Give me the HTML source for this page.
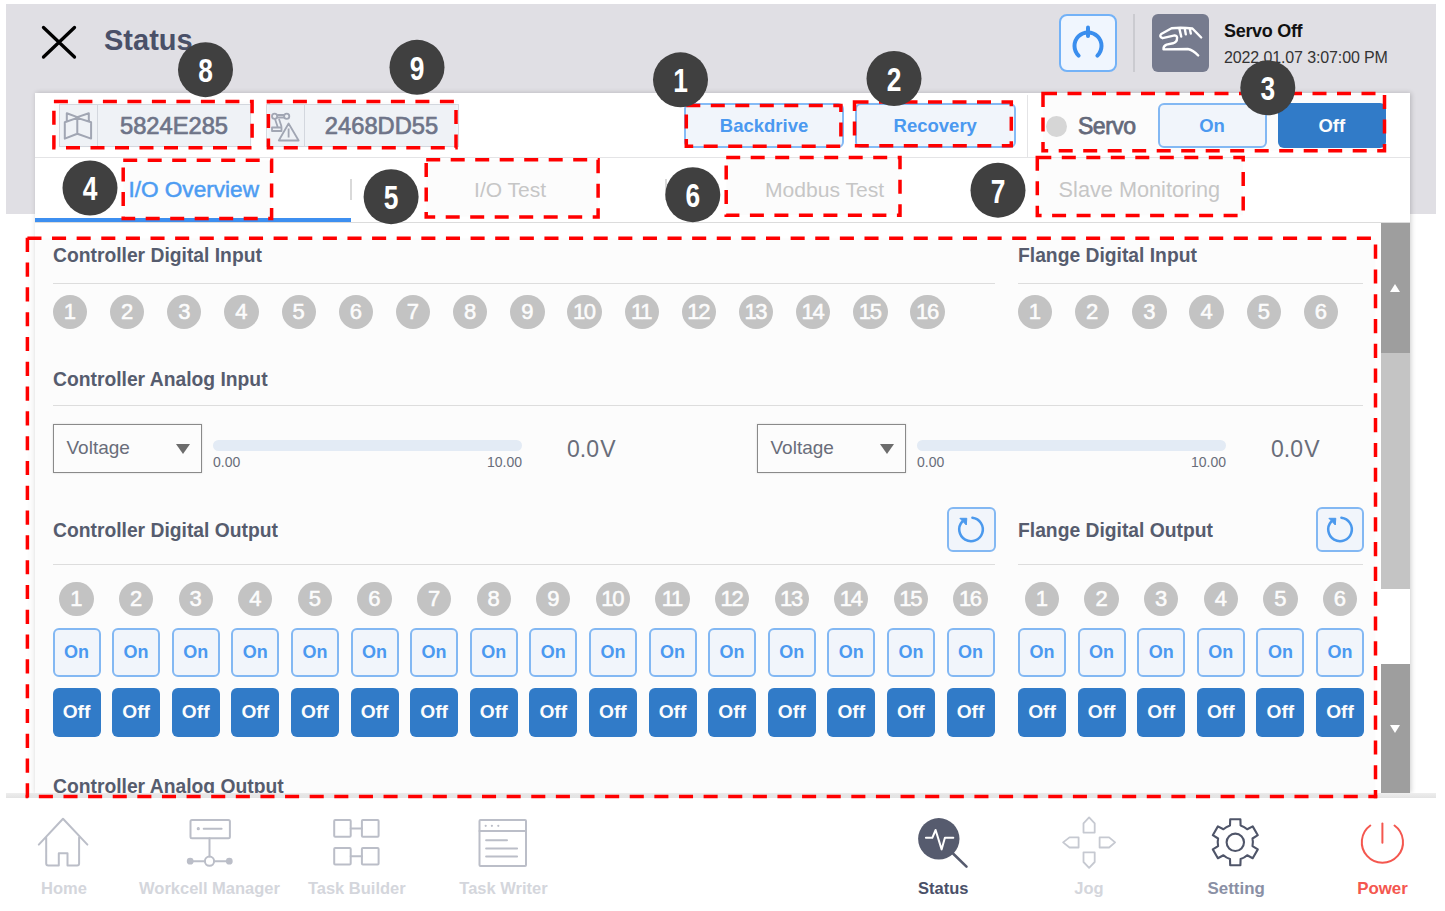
<!DOCTYPE html><html lang="en"><head><meta charset="utf-8"><title>Status</title><style>
*{box-sizing:border-box;margin:0;padding:0}
html,body{width:1445px;height:911px;overflow:hidden;background:#fff}
body{position:relative;font-family:"Liberation Sans",sans-serif;color:#4d5366}
.abs{position:absolute}
.hdr{left:6px;top:4px;width:1430px;height:210px;background:#e0dfe4}
.title{left:104px;top:21.5px;font-size:29px;font-weight:bold;color:#4a5068;line-height:36px;white-space:nowrap}
.panel{left:35px;top:93px;width:1375px;height:700px;background:#fff;box-shadow:1px 0 5px rgba(0,0,0,.2)}
.row1line{left:35px;top:157px;width:1375px;height:1px;background:#e4e4e6}
.tabline{left:35px;top:222px;width:1375px;height:1px;background:#dcdcdc}
.content{left:6px;top:793px;width:1430px;height:4.5px;background:linear-gradient(#eee,#e3e3e3)}
.idbox{top:103.5px;height:43px;width:192px;background:#f2f5f9;border:1px solid #d6dae1}
.idbox .ic{position:absolute;left:0;top:0;width:38px;height:41px;border-right:1px solid #d6dae1}
.idbox .tx{position:absolute;left:38px;right:0;top:1px;height:41px;line-height:41px;text-align:center;font-size:23.7px;color:#70768a;-webkit-text-stroke:.7px #70768a;white-space:nowrap}
.btnl{background:#f4f8fe;border:2px solid #85bbf6;border-radius:6px;color:#4c9bf3;font-weight:bold;text-align:center;white-space:nowrap}
.btnf{background:#327dcb;border-radius:6px;color:#fff;font-weight:bold;text-align:center;white-space:nowrap}
.tab{top:158px;width:315px;height:64px;line-height:63px;text-align:center;font-size:22px;color:#c9c9c9;white-space:nowrap}
.tab.on{color:#4e9ef5;-webkit-text-stroke:.5px #4e9ef5}
.tsep{top:178.5px;width:2px;height:21.5px;background:#d9d9d9}
.sec{font-size:19.3px;font-weight:bold;color:#585e70;line-height:24px;white-space:nowrap}
.hl{height:1px;background:#e0e0e0}
.dot{width:34.4px;height:34.4px;border-radius:50%;background:#c6c6c6;color:#fff;font-size:22px;-webkit-text-stroke:.55px #fff;line-height:34.4px;text-align:center;white-space:nowrap}
.dot.d2{letter-spacing:-1.3px;text-indent:-1.3px}
.sel{width:149px;height:49px;border:1.5px solid #8c8c8c;background:#fff;box-shadow:0 0 2px rgba(0,0,0,.15)}
.sel span{position:absolute;left:13px;top:0;line-height:46px;font-size:19px;color:#6b6f7c}
.sel i{position:absolute;left:122px;top:19px;width:0;height:0;border-left:7px solid transparent;border-right:7px solid transparent;border-top:10px solid #6e6e6e}
.bar{height:11px;border-radius:6px;background:#e6eef8}
.sm{font-size:14px;color:#6b6f7c;line-height:16px;white-space:nowrap}
.val{font-size:23px;color:#6b6f7c;line-height:28px;white-space:nowrap;word-spacing:-5px}
.nav{left:0;top:797.5px;width:1445px;height:114px;background:#fff}
.nl{top:878.3px;width:160px;text-align:center;font-size:16.5px;font-weight:bold;line-height:20px;color:#d4d6dc;white-space:nowrap}
</style></head><body>
<div class="abs hdr"></div>
<svg class="abs" style="left:38px;top:22px" width="42" height="40" viewBox="0 0 42 40"><path d="M5.5 5.5L36.5 35M36.5 5.5L5.5 35" stroke="#000" stroke-width="3.3" stroke-linecap="round" fill="none"/></svg>
<div class="abs title">Status</div>
<div class="abs" style="left:1059px;top:14px;width:58px;height:58px;border:2px solid #73b2f7;border-radius:8px;background:#f0f6fe"></div>
<svg class="abs" style="left:1059px;top:14px" width="58" height="58" viewBox="0 0 58 58"><path d="M19.6 41.6A13.5 13.5 0 1 1 38.4 41.6" stroke="#3a8eee" stroke-width="4" stroke-linecap="round" fill="none"/><path d="M29 13.5V22" stroke="#3a8eee" stroke-width="4" stroke-linecap="round"/></svg>
<div class="abs" style="left:1133px;top:14px;width:2px;height:58px;background:#cbcbd0"></div>
<div class="abs" style="left:1152px;top:14px;width:57px;height:58px;border-radius:6px;background:#767b8e"></div>
<svg class="abs" style="left:1152px;top:14px" width="57" height="58" viewBox="0 0 57 58"><path d="M49.2 23.5L40.4 14.5Q30 13.3 19.6 14.2L9.2 20Q6.8 22.6 10.6 24.2L22.7 21.4Q25.6 22 25 24.6Q25 28.3 21 29.3L14.5 30.6Q11.2 32 11.5 35.4L35.8 35Q41 36 46.2 41.5M37.7 14.4L38.8 19.6M32.7 14.1L33.8 20.4M27.3 14.2L29.2 22.5" stroke="#fff" stroke-width="2.4" stroke-linecap="round" stroke-linejoin="round" fill="none"/></svg>
<div class="abs" style="left:1224px;top:20px;font-size:18px;font-weight:bold;color:#111;line-height:22px;letter-spacing:-.3px;white-space:nowrap">Servo Off</div>
<div class="abs" style="left:1224px;top:48px;font-size:16px;color:#333;line-height:20px;letter-spacing:-.12px;white-space:nowrap">2022.01.07 3:07:00 PM</div>
<div class="abs panel"></div>
<div class="abs row1line"></div>
<div class="abs idbox" style="left:59px"><div class="ic"><svg width="38" height="42" viewBox="60 104.5 38 42"><path d="M64.8 121.7L77.3 117.4L91.1 121.7V138.1L77.3 133.2L64.8 138.1ZM77.3 117.4V133.2M66.8 121V112.8L77.3 116.6L88.8 112.8V121" stroke="#a3a8b6" stroke-width="2" fill="none" stroke-linejoin="round"/></svg></div><div class="tx">5824E285</div></div>
<div class="abs idbox" style="left:266px;width:193px"><div class="ic"><svg width="38" height="42" viewBox="267 104.5 38 42"><g stroke="#a3a8b6" stroke-width="1.8" fill="none" stroke-linejoin="round"><circle cx="274.6" cy="115.7" r="2.6"/><circle cx="286.7" cy="115.7" r="2.6"/><path d="M277.2 114.5H284.1M277.2 117H284.1M275 118.5L277.6 126.3M279 118.5L281.6 126.3M272 127H281.5V130.5H272ZM288.6 123L278.8 140H298.6ZM288.6 128V137"/></g></svg></div><div class="tx">2468DD55</div></div>
<div class="abs btnl" style="left:684px;top:103px;width:160px;height:44.5px;line-height:41px;font-size:18.5px">Backdrive</div>
<div class="abs btnl" style="left:855px;top:103px;width:160.5px;height:44.5px;line-height:41px;font-size:18.5px">Recovery</div>
<div class="abs" style="left:1027px;top:95px;width:1px;height:62px;background:#e4e4e6"></div>
<div class="abs" style="left:1045.5px;top:115.5px;width:21px;height:21px;border-radius:50%;background:#d9d9d9"></div>
<div class="abs" style="left:1078px;top:112px;font-size:23px;color:#666b7c;-webkit-text-stroke:.75px #666b7c;line-height:28px;letter-spacing:-.5px;white-space:nowrap">Servo</div>
<div class="abs btnl" style="left:1157.5px;top:103px;width:109px;height:44.5px;line-height:41px;font-size:18.5px">On</div>
<div class="abs btnf" style="left:1277.5px;top:103px;width:108.5px;height:44.5px;line-height:45px;font-size:18.5px">Off</div>
<div class="abs tab on" style="left:36.2px;font-size:22.6px;letter-spacing:0px">I/O Overview</div>
<div class="abs tab" style="left:352.6px;font-size:21px;letter-spacing:0px">I/O Test</div>
<div class="abs tab" style="left:667.0px;font-size:21.1px;letter-spacing:0px">Modbus Test</div>
<div class="abs tab" style="left:981.9px;font-size:21.7px;letter-spacing:0px">Slave Monitoring</div>
<div class="abs tsep" style="left:350.2px"></div>
<div class="abs tsep" style="left:665.4px"></div>
<div class="abs tabline"></div>
<div class="abs" style="left:35px;top:217.5px;width:316px;height:4.5px;background:#3d8ff0"></div>
<div class="abs content"></div>
<div class="abs" style="left:1381px;top:223px;width:29px;height:570px;background:#fff"></div>
<div class="abs" style="left:1381px;top:223px;width:29px;height:129.7px;background:#9e9e9e"></div>
<div class="abs" style="left:1381px;top:352.7px;width:29px;height:236.5px;background:#c4c4c4"></div>
<div class="abs" style="left:1381px;top:664.3px;width:29px;height:128.7px;background:#9e9e9e"></div>
<div class="abs" style="left:1389.5px;top:283.5px;width:0;height:0;border-left:5.5px solid transparent;border-right:5.5px solid transparent;border-bottom:8px solid #fff"></div>
<div class="abs" style="left:1389.5px;top:724.6px;width:0;height:0;border-left:5.5px solid transparent;border-right:5.5px solid transparent;border-top:8px solid #fff"></div>
<div class="abs sec" style="left:53px;top:244px">Controller Digital Input</div>
<div class="abs hl" style="left:53px;top:282.5px;width:942px"></div>
<div class="abs sec" style="left:1018px;top:244px">Flange Digital Input</div>
<div class="abs hl" style="left:1018px;top:282.5px;width:345px"></div>
<div class="abs dot" style="left:52.8px;top:294.8px">1</div>
<div class="abs dot" style="left:110.0px;top:294.8px">2</div>
<div class="abs dot" style="left:167.1px;top:294.8px">3</div>
<div class="abs dot" style="left:224.3px;top:294.8px">4</div>
<div class="abs dot" style="left:281.5px;top:294.8px">5</div>
<div class="abs dot" style="left:338.7px;top:294.8px">6</div>
<div class="abs dot" style="left:395.8px;top:294.8px">7</div>
<div class="abs dot" style="left:453.0px;top:294.8px">8</div>
<div class="abs dot" style="left:510.2px;top:294.8px">9</div>
<div class="abs dot d2" style="left:567.3px;top:294.8px">10</div>
<div class="abs dot d2" style="left:624.5px;top:294.8px">11</div>
<div class="abs dot d2" style="left:681.7px;top:294.8px">12</div>
<div class="abs dot d2" style="left:738.8px;top:294.8px">13</div>
<div class="abs dot d2" style="left:796.0px;top:294.8px">14</div>
<div class="abs dot d2" style="left:853.2px;top:294.8px">15</div>
<div class="abs dot d2" style="left:910.4px;top:294.8px">16</div>
<div class="abs dot" style="left:1017.8px;top:294.8px">1</div>
<div class="abs dot" style="left:1075.0px;top:294.8px">2</div>
<div class="abs dot" style="left:1132.2px;top:294.8px">3</div>
<div class="abs dot" style="left:1189.4px;top:294.8px">4</div>
<div class="abs dot" style="left:1246.6px;top:294.8px">5</div>
<div class="abs dot" style="left:1303.8px;top:294.8px">6</div>
<div class="abs sec" style="left:53px;top:368px">Controller Analog Input</div>
<div class="abs hl" style="left:53px;top:405px;width:1310px"></div>
<div class="abs sel" style="left:52.5px;top:423.5px"><span>Voltage</span><i></i></div>
<div class="abs bar" style="left:213.0px;top:440px;width:309px"></div>
<div class="abs sm" style="left:213.0px;top:454px">0.00</div>
<div class="abs sm" style="left:422.0px;top:454px;width:100px;text-align:right">10.00</div>
<div class="abs val" style="left:567.0px;top:435px">0.0 V</div>
<div class="abs sel" style="left:756.5px;top:423.5px"><span>Voltage</span><i></i></div>
<div class="abs bar" style="left:917.0px;top:440px;width:309px"></div>
<div class="abs sm" style="left:917.0px;top:454px">0.00</div>
<div class="abs sm" style="left:1126.0px;top:454px;width:100px;text-align:right">10.00</div>
<div class="abs val" style="left:1271.0px;top:435px">0.0 V</div>
<div class="abs sec" style="left:53px;top:518.5px">Controller Digital Output</div>
<div class="abs hl" style="left:53px;top:563.5px;width:942px"></div>
<div class="abs sec" style="left:1018px;top:518.5px">Flange Digital Output</div>
<div class="abs hl" style="left:1018px;top:563.5px;width:345px"></div>
<div class="abs btnl" style="left:947.1px;top:506.6px;width:48.6px;height:45.4px"><svg style="position:absolute;left:-2px;top:-2px" width="48.6" height="45.4" viewBox="0 0 48.6 45.4"><path d="M25.4 10.7A11.8 11.8 0 1 1 15.2 14.6" stroke="#4c9bf0" stroke-width="2.5" fill="none" stroke-linecap="round"/><path d="M12.9 11.3H19.8L19.3 18Z" fill="#4c9bf0" stroke="#4c9bf0" stroke-width="1" stroke-linejoin="round"/></svg></div>
<div class="abs btnl" style="left:1315.6px;top:506.6px;width:48.6px;height:45.4px"><svg style="position:absolute;left:-2px;top:-2px" width="48.6" height="45.4" viewBox="0 0 48.6 45.4"><path d="M25.4 10.7A11.8 11.8 0 1 1 15.2 14.6" stroke="#4c9bf0" stroke-width="2.5" fill="none" stroke-linecap="round"/><path d="M12.9 11.3H19.8L19.3 18Z" fill="#4c9bf0" stroke="#4c9bf0" stroke-width="1" stroke-linejoin="round"/></svg></div>
<div class="abs dot" style="left:59.3px;top:582.1px">1</div>
<div class="abs btnl" style="left:52.5px;top:628px;width:48px;height:48.5px;line-height:45px;font-size:18px">On</div>
<div class="abs btnf" style="left:52.5px;top:688px;width:48px;height:48.5px;line-height:48px;font-size:19.2px">Off</div>
<div class="abs dot" style="left:118.9px;top:582.1px">2</div>
<div class="abs btnl" style="left:112.1px;top:628px;width:48px;height:48.5px;line-height:45px;font-size:18px">On</div>
<div class="abs btnf" style="left:112.1px;top:688px;width:48px;height:48.5px;line-height:48px;font-size:19.2px">Off</div>
<div class="abs dot" style="left:178.5px;top:582.1px">3</div>
<div class="abs btnl" style="left:171.7px;top:628px;width:48px;height:48.5px;line-height:45px;font-size:18px">On</div>
<div class="abs btnf" style="left:171.7px;top:688px;width:48px;height:48.5px;line-height:48px;font-size:19.2px">Off</div>
<div class="abs dot" style="left:238.1px;top:582.1px">4</div>
<div class="abs btnl" style="left:231.3px;top:628px;width:48px;height:48.5px;line-height:45px;font-size:18px">On</div>
<div class="abs btnf" style="left:231.3px;top:688px;width:48px;height:48.5px;line-height:48px;font-size:19.2px">Off</div>
<div class="abs dot" style="left:297.7px;top:582.1px">5</div>
<div class="abs btnl" style="left:290.9px;top:628px;width:48px;height:48.5px;line-height:45px;font-size:18px">On</div>
<div class="abs btnf" style="left:290.9px;top:688px;width:48px;height:48.5px;line-height:48px;font-size:19.2px">Off</div>
<div class="abs dot" style="left:357.3px;top:582.1px">6</div>
<div class="abs btnl" style="left:350.5px;top:628px;width:48px;height:48.5px;line-height:45px;font-size:18px">On</div>
<div class="abs btnf" style="left:350.5px;top:688px;width:48px;height:48.5px;line-height:48px;font-size:19.2px">Off</div>
<div class="abs dot" style="left:416.9px;top:582.1px">7</div>
<div class="abs btnl" style="left:410.1px;top:628px;width:48px;height:48.5px;line-height:45px;font-size:18px">On</div>
<div class="abs btnf" style="left:410.1px;top:688px;width:48px;height:48.5px;line-height:48px;font-size:19.2px">Off</div>
<div class="abs dot" style="left:476.5px;top:582.1px">8</div>
<div class="abs btnl" style="left:469.7px;top:628px;width:48px;height:48.5px;line-height:45px;font-size:18px">On</div>
<div class="abs btnf" style="left:469.7px;top:688px;width:48px;height:48.5px;line-height:48px;font-size:19.2px">Off</div>
<div class="abs dot" style="left:536.1px;top:582.1px">9</div>
<div class="abs btnl" style="left:529.3px;top:628px;width:48px;height:48.5px;line-height:45px;font-size:18px">On</div>
<div class="abs btnf" style="left:529.3px;top:688px;width:48px;height:48.5px;line-height:48px;font-size:19.2px">Off</div>
<div class="abs dot d2" style="left:595.7px;top:582.1px">10</div>
<div class="abs btnl" style="left:588.9px;top:628px;width:48px;height:48.5px;line-height:45px;font-size:18px">On</div>
<div class="abs btnf" style="left:588.9px;top:688px;width:48px;height:48.5px;line-height:48px;font-size:19.2px">Off</div>
<div class="abs dot d2" style="left:655.3px;top:582.1px">11</div>
<div class="abs btnl" style="left:648.5px;top:628px;width:48px;height:48.5px;line-height:45px;font-size:18px">On</div>
<div class="abs btnf" style="left:648.5px;top:688px;width:48px;height:48.5px;line-height:48px;font-size:19.2px">Off</div>
<div class="abs dot d2" style="left:714.9px;top:582.1px">12</div>
<div class="abs btnl" style="left:708.1px;top:628px;width:48px;height:48.5px;line-height:45px;font-size:18px">On</div>
<div class="abs btnf" style="left:708.1px;top:688px;width:48px;height:48.5px;line-height:48px;font-size:19.2px">Off</div>
<div class="abs dot d2" style="left:774.5px;top:582.1px">13</div>
<div class="abs btnl" style="left:767.7px;top:628px;width:48px;height:48.5px;line-height:45px;font-size:18px">On</div>
<div class="abs btnf" style="left:767.7px;top:688px;width:48px;height:48.5px;line-height:48px;font-size:19.2px">Off</div>
<div class="abs dot d2" style="left:834.1px;top:582.1px">14</div>
<div class="abs btnl" style="left:827.3px;top:628px;width:48px;height:48.5px;line-height:45px;font-size:18px">On</div>
<div class="abs btnf" style="left:827.3px;top:688px;width:48px;height:48.5px;line-height:48px;font-size:19.2px">Off</div>
<div class="abs dot d2" style="left:893.7px;top:582.1px">15</div>
<div class="abs btnl" style="left:886.9px;top:628px;width:48px;height:48.5px;line-height:45px;font-size:18px">On</div>
<div class="abs btnf" style="left:886.9px;top:688px;width:48px;height:48.5px;line-height:48px;font-size:19.2px">Off</div>
<div class="abs dot d2" style="left:953.3px;top:582.1px">16</div>
<div class="abs btnl" style="left:946.5px;top:628px;width:48px;height:48.5px;line-height:45px;font-size:18px">On</div>
<div class="abs btnf" style="left:946.5px;top:688px;width:48px;height:48.5px;line-height:48px;font-size:19.2px">Off</div>
<div class="abs dot" style="left:1024.8px;top:582.1px">1</div>
<div class="abs btnl" style="left:1018.0px;top:628px;width:48px;height:48.5px;line-height:45px;font-size:18px">On</div>
<div class="abs btnf" style="left:1018.0px;top:688px;width:48px;height:48.5px;line-height:48px;font-size:19.2px">Off</div>
<div class="abs dot" style="left:1084.4px;top:582.1px">2</div>
<div class="abs btnl" style="left:1077.6px;top:628px;width:48px;height:48.5px;line-height:45px;font-size:18px">On</div>
<div class="abs btnf" style="left:1077.6px;top:688px;width:48px;height:48.5px;line-height:48px;font-size:19.2px">Off</div>
<div class="abs dot" style="left:1144.0px;top:582.1px">3</div>
<div class="abs btnl" style="left:1137.2px;top:628px;width:48px;height:48.5px;line-height:45px;font-size:18px">On</div>
<div class="abs btnf" style="left:1137.2px;top:688px;width:48px;height:48.5px;line-height:48px;font-size:19.2px">Off</div>
<div class="abs dot" style="left:1203.6px;top:582.1px">4</div>
<div class="abs btnl" style="left:1196.8px;top:628px;width:48px;height:48.5px;line-height:45px;font-size:18px">On</div>
<div class="abs btnf" style="left:1196.8px;top:688px;width:48px;height:48.5px;line-height:48px;font-size:19.2px">Off</div>
<div class="abs dot" style="left:1263.2px;top:582.1px">5</div>
<div class="abs btnl" style="left:1256.4px;top:628px;width:48px;height:48.5px;line-height:45px;font-size:18px">On</div>
<div class="abs btnf" style="left:1256.4px;top:688px;width:48px;height:48.5px;line-height:48px;font-size:19.2px">Off</div>
<div class="abs dot" style="left:1322.8px;top:582.1px">6</div>
<div class="abs btnl" style="left:1316.0px;top:628px;width:48px;height:48.5px;line-height:45px;font-size:18px">On</div>
<div class="abs btnf" style="left:1316.0px;top:688px;width:48px;height:48.5px;line-height:48px;font-size:19.2px">Off</div>
<div class="abs" style="left:35px;top:770px;width:1346px;height:23px;overflow:hidden"><div class="abs sec" style="left:18px;top:5px">Controller Analog Output</div></div>
<div class="abs nav"></div>
<div class="abs nl" style="left:-16.1px;color:#d4d6dc">Home</div>
<div class="abs nl" style="left:129.5px;color:#d4d6dc">Workcell Manager</div>
<div class="abs nl" style="left:276.8px;color:#d4d6dc">Task Builder</div>
<div class="abs nl" style="left:423.5px;color:#d4d6dc">Task Writer</div>
<div class="abs nl" style="left:863.3px;color:#4a5068">Status</div>
<div class="abs nl" style="left:1008.9px;color:#d4d6dc">Jog</div>
<div class="abs nl" style="left:1156.2px;color:#8a90a5;font-size:16.9px;top:878.8px">Setting</div>
<div class="abs nl" style="left:1302.5px;color:#f4574f;font-size:16.9px;top:878.8px">Power</div>
<svg class="abs" style="left:0;top:797px" width="1445" height="114" viewBox="0 797 1445 114" fill="none" stroke-linecap="round" stroke-linejoin="round">
<g stroke="#bbbec8" stroke-width="2"><path d="M38.8 844.6L63 818.8L87.4 844.6M46.2 837.5V863.5Q46.2 865.5 48.2 865.5H58.8V853.3H67.5V865.5H77.1Q79.1 865.5 79.1 863.5V837.5"/></g>
<g stroke="#bbbec8" stroke-width="2"><rect x="190.5" y="820" width="39.4" height="18.2" rx="1.5"/><path d="M203.7 828.7H221.6M209.5 838.2V856.6M190.2 861.2H204.9M214.1 861.2H229.3"/><circle cx="209.5" cy="861.2" r="4.6"/><circle cx="198.3" cy="828.7" r=".6" fill="#bbbec8"/><circle cx="190.2" cy="861.2" r="2.4" fill="#bbbec8"/><circle cx="229.3" cy="861.2" r="2.4" fill="#bbbec8"/></g>
<g stroke="#bbbec8" stroke-width="2"><rect x="334.2" y="820" width="16.5" height="16.8" rx="1"/><rect x="361.9" y="820" width="16.7" height="16.8" rx="1"/><rect x="334.2" y="847.9" width="16.5" height="16.6" rx="1"/><rect x="361.9" y="847.9" width="16.7" height="16.6" rx="1"/><path d="M350.7 828.5H361.9M350.7 856.2H361.9"/></g>
<g stroke="#bbbec8" stroke-width="2"><rect x="479.5" y="820" width="46.5" height="45.9" rx="1"/><path d="M479.5 831H526M486.1 840.3H507M486.1 848.4H517.1M486.1 856.4H517.1"/><g stroke-width="2.2"><path d="M485.7 825.8h.01M491.9 825.8h.01M498.3 825.8h.01"/></g></g>
<circle cx="938.8" cy="838.8" r="20.7" fill="#565b6e"/><path d="M953 853.5L966.5 866.6" stroke="#565b6e" stroke-width="2.6"/><path d="M925.9 837.8H932.3L935.6 830L941.6 849.4L944.9 837.8H953.3" stroke="#fff" stroke-width="2"/>
<g stroke="#c6c9d1" stroke-width="1.8"><path d="M1089.1 817.4L1094.7 823.3V832.6H1083.5V823.3Z"/><path d="M1089.1 867.8L1094.7 862V852.3H1083.5V862Z"/><path d="M1063.1 842.4L1069.5 837.4H1078.6V847.5H1069.5Z"/><path d="M1115.1 842.4L1109.1 837.4H1099.6V847.5H1109.1Z"/></g>
<g stroke="#4f5569" stroke-width="2.1"><path d="M1230.0 825.5L1230.2 819.3L1240.4 819.3L1240.6 825.5A17.6 17.6 0 0 1 1247.2 829.3L1252.7 826.4L1257.8 835.2L1252.5 838.5A17.6 17.6 0 0 1 1252.5 846.1L1257.8 849.4L1252.7 858.2L1247.2 855.3A17.6 17.6 0 0 1 1240.6 859.1L1240.4 865.3L1230.2 865.3L1230.0 859.1A17.6 17.6 0 0 1 1223.4 855.3L1217.9 858.2L1212.8 849.4L1218.1 846.1A17.6 17.6 0 0 1 1218.1 838.5L1212.8 835.2L1217.9 826.4L1223.4 829.3A17.6 17.6 0 0 1 1230.0 825.5Z"/><circle cx="1235.3" cy="842.3" r="8.7"/></g>
<g stroke="#f4574f" stroke-width="2"><path d="M1370.3 825.5A20.6 20.6 0 1 0 1394.5 825.5"/><path d="M1382.4 823.5V842.8"/></g>
</svg>
<svg class="abs" style="left:0;top:0" width="1445" height="911" viewBox="0 0 1445 911">
<rect x="53.9" y="101.5" width="198.2" height="46.2" fill="rgba(0,0,0,.012)" stroke="#f00" stroke-width="3.5" stroke-dasharray="14.0 10.5" stroke-dashoffset="0.0"/>
<rect x="268.4" y="101.5" width="187.6" height="46.2" fill="rgba(0,0,0,.012)" stroke="#f00" stroke-width="3.5" stroke-dasharray="14.0 10.5" stroke-dashoffset="0.0"/>
<rect x="686.3" y="105.5" width="154.6" height="40.7" fill="rgba(0,0,0,.012)" stroke="#f00" stroke-width="3.5" stroke-dasharray="14.0 10.5" stroke-dashoffset="0.0"/>
<rect x="854.5" y="102.0" width="156.8" height="43.7" fill="rgba(0,0,0,.012)" stroke="#f00" stroke-width="3.5" stroke-dasharray="14.0 10.5" stroke-dashoffset="0.0"/>
<rect x="1043.0" y="93.5" width="341.5" height="57.2" fill="rgba(0,0,0,.012)" stroke="#f00" stroke-width="3.5" stroke-dasharray="14.0 10.5" stroke-dashoffset="0.0"/>
<rect x="123.2" y="160.3" width="148.4" height="58.2" fill="rgba(0,0,0,.012)" stroke="#f00" stroke-width="3.5" stroke-dasharray="14.0 10.5" stroke-dashoffset="0.0"/>
<rect x="426.2" y="159.7" width="171.9" height="57.2" fill="rgba(0,0,0,.012)" stroke="#f00" stroke-width="3.5" stroke-dasharray="14.0 10.5" stroke-dashoffset="0.0"/>
<rect x="726.2" y="157.6" width="173.8" height="57.6" fill="rgba(0,0,0,.012)" stroke="#f00" stroke-width="3.5" stroke-dasharray="14.0 10.5" stroke-dashoffset="0.0"/>
<rect x="1037.3" y="157.4" width="205.9" height="58.0" fill="rgba(0,0,0,.012)" stroke="#f00" stroke-width="3.5" stroke-dasharray="14.0 10.5" stroke-dashoffset="0.0"/>
<rect x="27.4" y="238.2" width="1348.1" height="558.3" fill="rgba(0,0,0,.012)"/>
<line x1="25.65" y1="238.20" x2="1377.25" y2="238.20" stroke="#f00" stroke-width="3.5" stroke-dasharray="14.07 10.55" stroke-dashoffset="22.87"/>
<line x1="1375.50" y1="236.45" x2="1375.50" y2="798.25" stroke="#f00" stroke-width="3.5" stroke-dasharray="14.17 10.62" stroke-dashoffset="16.65"/>
<line x1="1377.25" y1="796.50" x2="25.65" y2="796.50" stroke="#f00" stroke-width="3.5" stroke-dasharray="14.07 10.55" stroke-dashoffset="5.15"/>
<line x1="27.40" y1="798.25" x2="27.40" y2="236.45" stroke="#f00" stroke-width="3.5" stroke-dasharray="14.17 10.63" stroke-dashoffset="24.05"/>
<circle cx="205.5" cy="69.7" r="27.5" fill="#404040"/><text transform="translate(205.5 82.0) scale(.81 1)" text-anchor="middle" font-family="Liberation Sans, sans-serif" font-weight="bold" font-size="32.5" fill="#fff">8</text>
<circle cx="417.0" cy="67.3" r="27.5" fill="#404040"/><text transform="translate(417.0 79.6) scale(.81 1)" text-anchor="middle" font-family="Liberation Sans, sans-serif" font-weight="bold" font-size="32.5" fill="#fff">9</text>
<circle cx="680.5" cy="79.8" r="27.5" fill="#404040"/><text transform="translate(680.5 92.1) scale(.81 1)" text-anchor="middle" font-family="Liberation Sans, sans-serif" font-weight="bold" font-size="32.5" fill="#fff">1</text>
<circle cx="894.0" cy="78.5" r="27.5" fill="#404040"/><text transform="translate(894.0 90.8) scale(.81 1)" text-anchor="middle" font-family="Liberation Sans, sans-serif" font-weight="bold" font-size="32.5" fill="#fff">2</text>
<circle cx="1267.8" cy="87.8" r="27.5" fill="#404040"/><text transform="translate(1267.8 100.1) scale(.81 1)" text-anchor="middle" font-family="Liberation Sans, sans-serif" font-weight="bold" font-size="32.5" fill="#fff">3</text>
<circle cx="90.0" cy="188.0" r="27.5" fill="#404040"/><text transform="translate(90.0 200.3) scale(.81 1)" text-anchor="middle" font-family="Liberation Sans, sans-serif" font-weight="bold" font-size="32.5" fill="#fff">4</text>
<circle cx="391.1" cy="196.7" r="27.5" fill="#404040"/><text transform="translate(391.1 209.0) scale(.81 1)" text-anchor="middle" font-family="Liberation Sans, sans-serif" font-weight="bold" font-size="32.5" fill="#fff">5</text>
<circle cx="692.8" cy="194.7" r="27.5" fill="#404040"/><text transform="translate(692.8 207.0) scale(.81 1)" text-anchor="middle" font-family="Liberation Sans, sans-serif" font-weight="bold" font-size="32.5" fill="#fff">6</text>
<circle cx="998.0" cy="190.2" r="27.5" fill="#404040"/><text transform="translate(998.0 202.5) scale(.81 1)" text-anchor="middle" font-family="Liberation Sans, sans-serif" font-weight="bold" font-size="32.5" fill="#fff">7</text>
</svg>
</body></html>
